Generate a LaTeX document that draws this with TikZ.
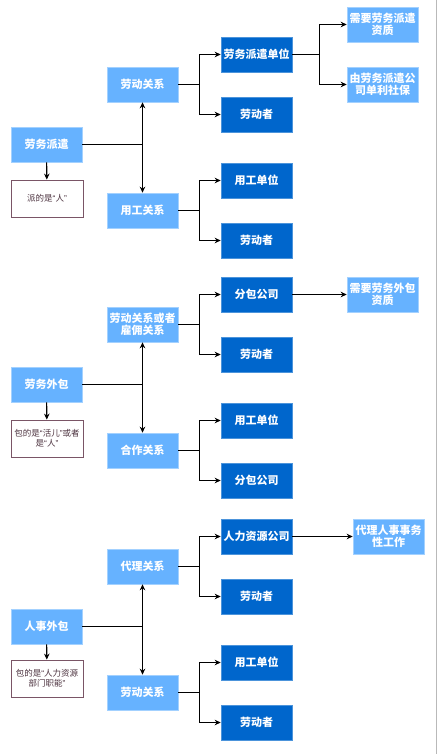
\documentclass[tikz,border=0pt]{standalone}
\usepackage{fontspec}
\newfontfamily\cjk{Noto Sans CJK SC}
\newfontfamily\latq{Liberation Sans}
\newcommand\quoted[1]{{\latq“}#1{\latq”}}
\usetikzlibrary{arrows.meta}
\definecolor{lightbox}{HTML}{66B2FF}
\definecolor{darkbox}{HTML}{0066CC}
\definecolor{notebd}{HTML}{7A5566}
\definecolor{notetx}{HTML}{4D3340}
\begin{document}
\begin{tikzpicture}[x=1pt,y=-1pt,
    base/.style={minimum width=71pt,minimum height=35pt,inner sep=0pt,align=center,
      text=white,font=\cjk\bfseries\fontsize{11}{12.5}\selectfont},
    light/.style={base,fill=lightbox,draw=lightbox!60!white,line width=0.6pt},
    dark/.style={base,fill=darkbox,draw=darkbox!70!white,line width=0.6pt},
    note/.style={draw=notebd,fill=white,line width=0.8pt,minimum width=72pt,minimum height=37pt,
      inner sep=0pt,align=center,text=notetx,font=\cjk\fontsize{8.5}{10}\selectfont},
    wire/.style={line width=1.1pt},
    link/.style={wire,-{Stealth[length=6pt,width=5.5pt]}},
    both/.style={wire,{Stealth[length=6pt,width=5.5pt]}-{Stealth[length=6pt,width=5.5pt]}}]
  \useasboundingbox (0,0) rectangle (438,754);
  \draw [gray!55,line width=1pt] (436.5,0) -- (436.5,754);

  % 劳务派遣
  \node [light] (pq) at (46.5,144.5) {劳务派遣};
  \node [note] (pqnote) at (47,198.5) {派的是\quoted{人}};
  \node [light] (pqld) at (142.5,84.5) {劳动关系};
  \node [light] (pqyg) at (142.5,210.5) {用工关系};
  \node [dark] (pqdw) at (256.5,54.5) {劳务派遣单位};
  \node [dark] (pqlz) at (256.5,114.5) {劳动者};
  \node [dark] (pqyd) at (256.5,180.5) {用工单位};
  \node [dark] (pqlz2) at (256.5,240.5) {劳动者};
  \node [light] (pqzz) at (382.5,24.5) {需要劳务派遣\\资质};
  \node [light] (pqsb) at (382.5,84.5) {由劳务派遣公\\司单利社保};

  \draw [link] (pq) -- (pqnote);
  \draw [wire] (pq.east) -- (pq.east -| pqld);
  \draw [both] (pqld) -- (pqyg);
  \draw [link] (pqld.east) -- +(21,0) |- (pqdw.west);
  \draw [link] (pqld.east) -- +(21,0) |- (pqlz.west);
  \draw [link] (pqyg.east) -- +(21,0) |- (pqyd.west);
  \draw [link] (pqyg.east) -- +(21,0) |- (pqlz2.west);
  \draw [link] (pqdw.east) -- +(27,0) |- (pqzz.west);
  \draw [link] (pqdw.east) -- +(27,0) |- (pqsb.west);

  % 劳务外包
  \node [light] (wb) at (46.5,384.5) {劳务外包};
  \node [note] (wbnote) at (47,438.5) {包的是\quoted{活儿}或者\\是\quoted{人}};
  \node [light] (wbld) at (142.5,324.5) {劳动关系或者\\雇佣关系};
  \node [light] (wbhz) at (142.5,450.5) {合作关系};
  \node [dark] (wbfb) at (256.5,294.5) {分包公司};
  \node [dark] (wblz) at (256.5,354.5) {劳动者};
  \node [dark] (wbyd) at (256.5,420.5) {用工单位};
  \node [dark] (wbfb2) at (256.5,480.5) {分包公司};
  \node [light] (wbzz) at (382.5,294.5) {需要劳务外包\\资质};

  \draw [link] (wb) -- (wbnote);
  \draw [wire] (wb.east) -- (wb.east -| wbld);
  \draw [both] (wbld) -- (wbhz);
  \draw [link] (wbld.east) -- +(21,0) |- (wbfb.west);
  \draw [link] (wbld.east) -- +(21,0) |- (wblz.west);
  \draw [link] (wbhz.east) -- +(21,0) |- (wbyd.west);
  \draw [link] (wbhz.east) -- +(21,0) |- (wbfb2.west);
  \draw [link] (wbfb) -- (wbzz);

  % 人事外包
  \node [light] (rs) at (46.5,626.5) {人事外包};
  \node [note] (rsnote) at (47,678.5) {包的是{\latq“}人力资源\\部门职能{\latq”}};
  \node [light] (rsdl) at (142.5,566.5) {代理关系};
  \node [light] (rsld) at (142.5,692.5) {劳动关系};
  \node [dark] (rshr) at (256.5,536.5) {人力资源公司};
  \node [dark] (rslz) at (256.5,596.5) {劳动者};
  \node [dark] (rsyd) at (256.5,662.5) {用工单位};
  \node [dark] (rslz2) at (256.5,722.5) {劳动者};
  \node [light] (rssw) at (388.5,536.5) {代理人事事务\\性工作};

  \draw [link] (rs) -- (rsnote);
  \draw [wire] (rs.east) -- (rs.east -| rsdl);
  \draw [both] (rsdl) -- (rsld);
  \draw [link] (rsdl.east) -- +(21,0) |- (rshr.west);
  \draw [link] (rsdl.east) -- +(21,0) |- (rslz.west);
  \draw [link] (rsld.east) -- +(21,0) |- (rsyd.west);
  \draw [link] (rsld.east) -- +(21,0) |- (rslz2.west);
  \draw [link] (rshr) -- (rssw);
\end{tikzpicture}
\end{document}
